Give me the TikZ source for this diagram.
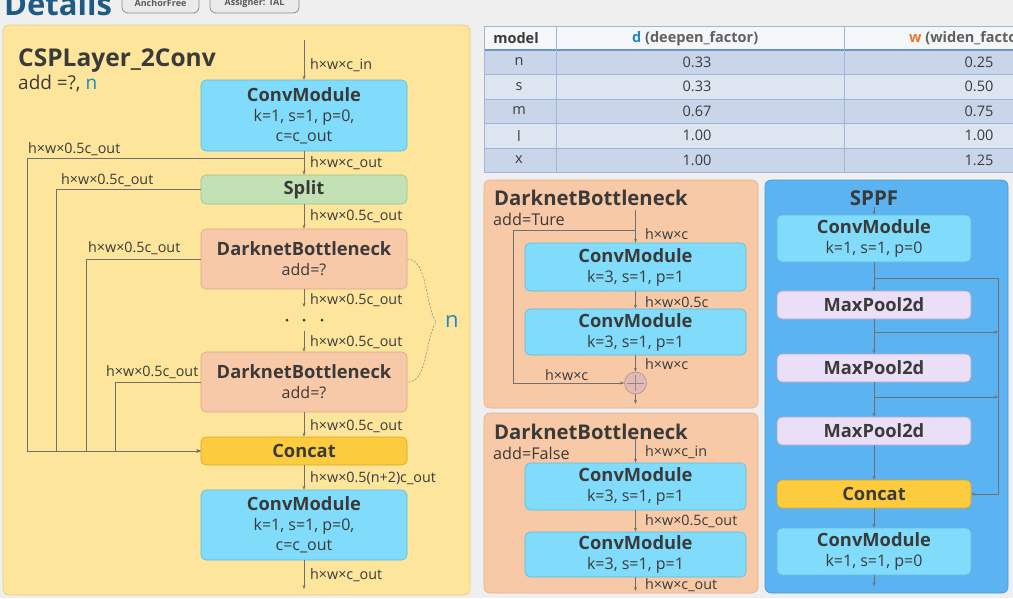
\documentclass[tikz,border=0pt]{standalone}
\usepackage{fontspec}
\setmainfont{Open Sans}
\usetikzlibrary{arrows.meta,calc}
\definecolor{bgc}{HTML}{EFEFEF}
\definecolor{txt}{HTML}{3A3A3A}
\definecolor{linec}{HTML}{707070}
\definecolor{yelc}{HTML}{FDE59B}
\definecolor{yeld}{HTML}{E2CC86}
\definecolor{convc}{HTML}{80DCFA}
\definecolor{convd}{HTML}{62B9D8}
\definecolor{splc}{HTML}{C2E2B6}
\definecolor{spld}{HTML}{98C48C}
\definecolor{dbc}{HTML}{F8C9A8}
\definecolor{dbd}{HTML}{D8A78A}
\definecolor{catc}{HTML}{FDCB3E}
\definecolor{catd}{HTML}{D9A52B}
\definecolor{orc}{HTML}{F8C9A6}
\definecolor{ord}{HTML}{E2B28E}
\definecolor{sppc}{HTML}{5BB3F2}
\definecolor{sppd}{HTML}{4A98D2}
\definecolor{mpc}{HTML}{EADFF6}
\definecolor{mpd}{HTML}{B6A5CF}
\definecolor{plc}{HTML}{E6B7B3}
\definecolor{nblue}{HTML}{1E88C8}
\definecolor{worange}{HTML}{E8782A}
\definecolor{detc}{HTML}{1D5A86}
\definecolor{thc}{HTML}{F5F6F8}
\definecolor{rowa}{HTML}{C9D6E9}
\definecolor{rowb}{HTML}{DDE5F0}
\definecolor{gridc}{HTML}{9DB6D9}
\definecolor{gridd}{HTML}{6F95C8}
\definecolor{hdrt}{HTML}{606060}
\newcommand{\myTitle}{\fontsize{18.3}{20}\selectfont\bfseries}
\newcommand{\mySub}{\fontsize{16}{20}\selectfont}
\newcommand{\myLbl}{\fontsize{14.3}{15}\selectfont}
\begin{document}
\begin{tikzpicture}[x=1pt,y=-1pt,
  ln/.style={draw=linec,line width=0.6pt},
  arr/.style={ln,-{Stealth[length=4pt,width=3pt]}},
  blk/.style={rounded corners=5pt,line width=0.6pt,align=center,inner sep=0pt,text=txt,font=\mySub},
  conv/.style={blk,fill=convc,draw=convd,minimum width=206pt},
  splitb/.style={blk,fill=splc,draw=spld,minimum width=206pt,font=\myTitle},
  dbb/.style={blk,fill=dbc,draw=dbd,minimum width=206pt},
  catb/.style={blk,fill=catc,draw=catd,minimum width=206pt,font=\myTitle},
  pconv/.style={blk,fill=convc,draw=convd,minimum width=221pt},
  sconv/.style={blk,fill=convc,draw=convd,minimum width=194pt},
  smp/.style={blk,fill=mpc,draw=mpd,minimum width=194pt,minimum height=28pt,font=\myTitle},
  scat/.style={blk,fill=catc,draw=catd,minimum width=194pt,minimum height=28pt,font=\myTitle},
  lbl/.style={anchor=west,inner sep=0pt,text=txt,font=\myLbl},
  panel/.style={rounded corners=6pt,line width=0.6pt},
  ptitle/.style={anchor=base west,inner sep=0pt,text=txt,font=\fontsize{20.3}{22}\selectfont\bfseries},
  psub/.style={anchor=west,inner sep=0pt,text=txt,font=\fontsize{16.2}{18}\selectfont},
  tcell/.style={inner sep=0pt,text=txt,font=\fontsize{14.5}{16}\selectfont},
  thead/.style={inner sep=0pt,text=hdrt,font=\fontsize{14.5}{16}\selectfont\bfseries},
  dotn/.style={circle,fill=black!80,inner sep=0pt,minimum size=3pt},
  tag/.style={draw=black!45,fill=black!8,rounded corners=6pt,line width=0.8pt,minimum height=20pt,inner sep=0pt,text=black!65,font=\fontsize{9}{10}\selectfont\bfseries}
]
\useasboundingbox (0,0) rectangle (1013,598);
\clip (0,0) rectangle (1013,598);
\fill[bgc] (0,0) rectangle (1013,598);

% header
\node[anchor=base west,inner sep=0pt,text=detc,font=\fontsize{31}{31}\selectfont\bfseries] (det) at (4,15.5) {Details};
\node[tag,minimum width=77pt] (tag1) at (160.5,3) {AnchorFree};
\node[tag,minimum width=89pt] (tag2) at (254.5,3) {Assigner: TAL};

% ===== left panel =====
\filldraw[panel,fill=yelc,draw=yeld] (3,25) rectangle (470,595);
\node[anchor=base west,inner sep=0pt,text=txt,font=\fontsize{24.5}{26}\selectfont\bfseries] (csptitle) at (18,66) {CSPLayer\_2Conv};
\node[anchor=base west,inner sep=0pt,text=txt,font=\fontsize{19}{20}\selectfont] (cspsub) at (18,89) {add =?, \textcolor{nblue}{n}};

\node[conv,minimum height=71pt] (cm1) at (304,115.5) {{\myTitle ConvModule}\\k=1, s=1, p=0,\\c=c\_out};
\node[splitb,minimum height=29pt] (split) at (304,189.5) {Split};
\node[dbb,minimum height=60pt] (db1) at (304,259) {{\myTitle DarknetBottleneck}\\add=?};
\node[dbb,minimum height=60pt] (db2) at (304,382) {{\myTitle DarknetBottleneck}\\add=?};
\node[catb,minimum height=28pt] (cat) at (304,451) {Concat};
\node[conv,minimum height=70pt] (cm2) at (304,525) {{\myTitle ConvModule}\\k=1, s=1, p=0,\\c=c\_out};

\coordinate (cin) at (304,40);
\coordinate (cout) at (304,589);
\coordinate (br1) at (304,158);
\coordinate (dA) at (304,307);
\coordinate (dB) at (304,331);
\coordinate (j1) at (27,451);
\coordinate (j2) at (56,451);
\coordinate (j3) at (86,451);
\coordinate (j4) at (115,451);

\draw[arr] (cin) -- (cm1.north);
\draw[arr] (cm1.south) -- (split.north);
\draw[arr] (split.south) -- (db1.north);
\draw[arr] (db1.south) -- (dA);
\draw[arr] (dB) -- (db2.north);
\draw[arr] (db2.south) -- (cat.north);
\draw[arr] (cat.south) -- (cm2.north);
\draw[arr] (cm2.south) -- (cout);

\draw[arr] (br1) -- (br1 -| j1) -- (j1) -- (cat.west);
\draw[arr] (split.west) -- (split.west -| j2) -- (j2) -- (cat.west);
\draw[arr] (db1.west) -- (db1.west -| j3) -- (j3) -- (cat.west);
\draw[arr] (db2.west) -- (db2.west -| j4) -- (j4) -- (cat.west);

\node[dotn] (dot1) at (287,320) {};
\node[dotn] (dot2) at (304,320) {};
\node[dotn] (dot3) at (322,320) {};

\node[lbl] (l1) at (310,65) {h×w×c\_in};
\node[lbl] (l2) at (310,163) {h×w×c\_out};
\node[lbl] (l3) at (310,216) {h×w×0.5c\_out};
\node[lbl] (l4) at (310,300) {h×w×0.5c\_out};
\node[lbl] (l5) at (310,342) {h×w×0.5c\_out};
\node[lbl] (l6) at (310,426) {h×w×0.5c\_out};
\node[lbl] (l7) at (310,478) {h×w×0.5(n+2)c\_out};
\node[lbl] (l8) at (310,575) {h×w×c\_out};
\node[lbl] (l9) at (28,149) {h×w×0.5c\_out};
\node[lbl] (l10) at (61,180) {h×w×0.5c\_out};
\node[lbl] (l11) at (88,248) {h×w×0.5c\_out};
\node[lbl] (l12) at (106,372) {h×w×0.5c\_out};

\coordinate (btip) at (436,322);
\draw[draw=black!45,line width=0.6pt,dash pattern=on 2pt off 1.5pt] (db1.east) .. controls (428,259) and (425,306) .. (btip) .. controls (425,338) and (428,383) .. (db2.east);
\node[anchor=west,inner sep=0pt,text=nblue,font=\fontsize{22}{24}\selectfont] (nlab) at (445,321) {n};

% ===== table =====
\fill[thc] (484,26) rectangle (1020,50);
\fill[rowa] (484,50) rectangle (1020,74);
\fill[rowb] (484,74) rectangle (1020,99);
\fill[rowa] (484,99) rectangle (1020,123);
\fill[rowb] (484,123) rectangle (1020,148);
\fill[rowa] (484,148) rectangle (1020,172);
\foreach \yy in {26,74,99,123,148,172} {\draw[gridc,line width=0.6pt] (484,\yy) -- (1020,\yy);}
\draw[gridd,line width=1.4pt] (484,50) -- (1020,50);
\foreach \xx in {484,556,844} {\draw[gridc,line width=0.6pt] (\xx,26) -- (\xx,172);}
\node[thead,text=txt] (hm) at (516,38.5) {model};
\node[thead,anchor=west] (hd) at (632,38.5) {\textcolor{nblue}{d} (deepen\_factor)};
\node[thead,anchor=west] (hw) at (909,38.5) {\textcolor{worange}{w} (widen\_factor)};
\foreach \nm/\dv/\wv/\yy in {n/0.33/0.25/62, s/0.33/0.50/86.5, m/0.67/0.75/111, l/1.00/1.00/135.5, x/1.00/1.25/160} {
  \node[tcell] (m\nm) at (519,\yy) {\nm};
  \node[tcell] (d\nm) at (697,\yy) {\dv};
  \node[tcell] (w\nm) at (979,\yy) {\wv};
}

% ===== DarknetBottleneck add=True =====
\filldraw[panel,fill=orc,draw=ord] (484,180) rectangle (758,408);
\node[ptitle] (p1t) at (494,205) {DarknetBottleneck};
\node[psub] (p1s) at (493,219) {add=Ture};
\node[pconv,minimum height=48pt] (pc1) at (635.5,267) {{\myTitle ConvModule}\\k=3, s=1, p=1};
\node[pconv,minimum height=46pt] (pc2) at (635.5,332) {{\myTitle ConvModule}\\k=3, s=1, p=1};
\node[circle,fill=plc,draw=black!40,line width=0.6pt,minimum size=22pt,inner sep=0pt] (plus) at (635.5,383) {};
\draw[black!45,line width=0.9pt] ($(plus.north)+(0,3)$) -- ($(plus.south)+(0,-3)$);
\draw[black!45,line width=0.9pt] ($(plus.west)+(3,0)$) -- ($(plus.east)+(-3,0)$);
\coordinate (p1in) at (635.5,210);
\coordinate (p1br) at (635.5,230);
\coordinate (p1cr) at (513,383);
\coordinate (p1out) at (635.5,404);
\draw[arr] (p1in) -- (pc1.north);
\draw[arr] (p1br) -- (p1br -| p1cr) -- (p1cr) -- (plus.west);
\draw[arr] (pc1.south) -- (pc2.north);
\draw[arr] (pc2.south) -- (plus.north);
\draw[arr] (plus.south) -- (p1out);
\node[lbl] (p1l1) at (645,234) {h×w×c};
\node[lbl] (p1l2) at (645,302) {h×w×0.5c};
\node[lbl] (p1l3) at (645,364) {h×w×c};
\node[lbl] (p1l4) at (545,375) {h×w×c};

% ===== DarknetBottleneck add=False =====
\filldraw[panel,fill=orc,draw=ord] (484,413) rectangle (758,593);
\node[ptitle] (p2t) at (494,439) {DarknetBottleneck};
\node[psub] (p2s) at (493,453) {add=False};
\node[pconv,minimum height=47pt] (pc3) at (635.5,486.5) {{\myTitle ConvModule}\\k=3, s=1, p=1};
\node[pconv,minimum height=45pt] (pc4) at (635.5,554.5) {{\myTitle ConvModule}\\k=3, s=1, p=1};
\coordinate (p2in) at (635.5,438);
\coordinate (p2out) at (635.5,591);
\draw[arr] (p2in) -- (pc3.north);
\draw[arr] (pc3.south) -- (pc4.north);
\draw[arr] (pc4.south) -- (p2out);
\node[lbl] (p2l1) at (645,452) {h×w×c\_in};
\node[lbl] (p2l2) at (645,521) {h×w×0.5c\_out};
\node[lbl] (p2l3) at (645,585) {h×w×c\_out};

% ===== SPPF =====
\filldraw[panel,fill=sppc,draw=sppd] (765,180) rectangle (1008,593);
\node[anchor=base,inner sep=0pt,text=txt,font=\fontsize{20.5}{22}\selectfont\bfseries] (spt) at (874,205) {SPPF};
\node[sconv,minimum height=47pt] (sc1) at (874,238.5) {{\myTitle ConvModule}\\k=1, s=1, p=0};
\node[smp] (mp1) at (874,305) {MaxPool2d};
\node[smp] (mp2) at (874,368) {MaxPool2d};
\node[smp] (mp3) at (874,431) {MaxPool2d};
\node[scat] (scat) at (874,494) {Concat};
\node[sconv,minimum height=47pt] (sc2) at (874,551.5) {{\myTitle ConvModule}\\k=1, s=1, p=0};
\coordinate (sin) at (874,207);
\coordinate (sout) at (874,586);
\coordinate (sb1) at (874,278);
\coordinate (sb2) at (874,332);
\coordinate (sb3) at (874,397);
\coordinate (bus) at (998,494);
\draw[arr] (sin) -- (sc1.north);
\draw[arr] (sc1.south) -- (mp1.north);
\draw[arr] (mp1.south) -- (mp2.north);
\draw[arr] (mp2.south) -- (mp3.north);
\draw[arr] (mp3.south) -- (scat.north);
\draw[arr] (scat.south) -- (sc2.north);
\draw[arr] (sc2.south) -- (sout);
\draw[arr] (sb1) -- (sb1 -| bus) -- (bus) -- (scat.east);
\draw[arr] (sb2) -- (sb2 -| bus);
\draw[arr] (sb3) -- (sb3 -| bus);
\end{tikzpicture}
\end{document}
